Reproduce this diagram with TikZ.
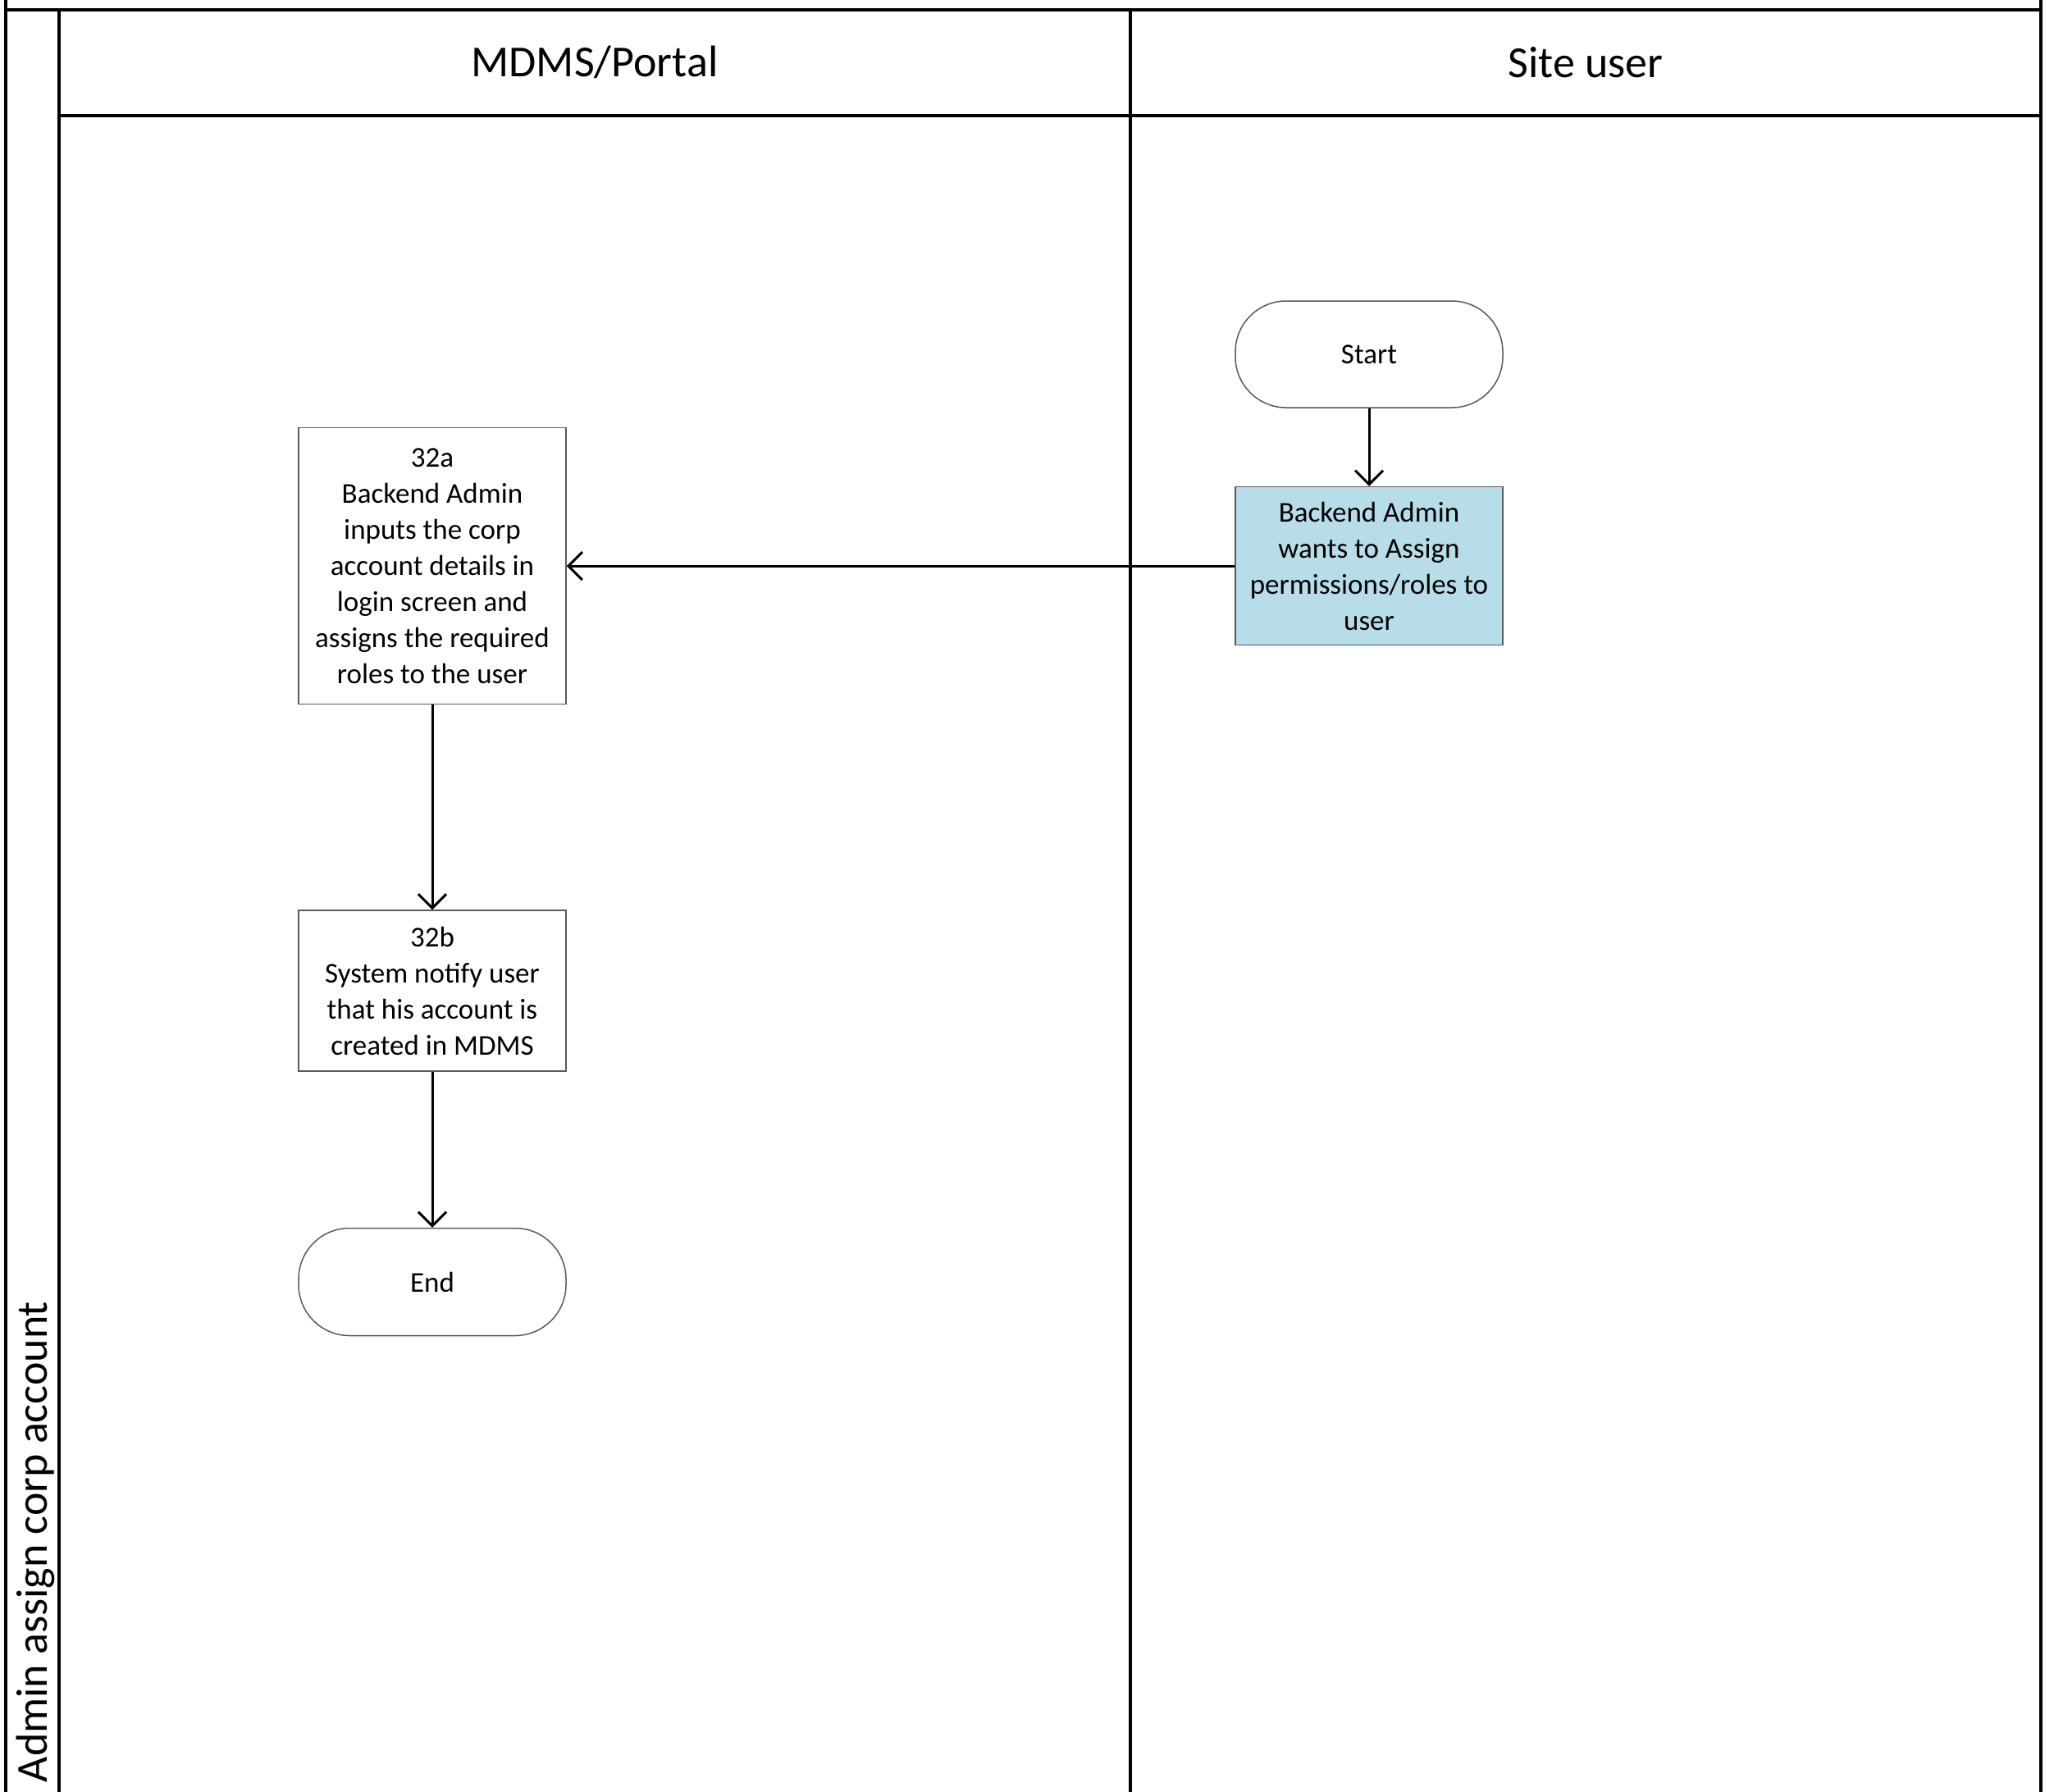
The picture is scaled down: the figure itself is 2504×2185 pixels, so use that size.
\documentclass[tikz,border=0pt]{standalone}
\usepackage{fontspec}
\setmainfont{Carlito}
\usetikzlibrary{arrows.meta}
\definecolor{stepblue}{HTML}{B7DDE8}
\definecolor{boxline}{HTML}{5A5A5A}

\begin{document}
\begin{tikzpicture}[x=1pt,y=-1pt,
  lane/.style={line width=4pt, draw=black, line cap=rect},
  proc/.style={draw=boxline, line width=1.5pt, fill=white, minimum width=326pt,
    inner sep=0pt, align=center, font=\fontsize{35}{44}\selectfont},
  term/.style={proc, rounded corners=62pt},
  flow/.style={line width=3pt, draw=black,
    -{Straight Barb[length=17pt,width=34pt,line width=3pt]}},
  headtext/.style={font=\fontsize{54}{64}\selectfont, inner sep=0pt}]
\useasboundingbox (0,0) rectangle (2504,2185);
\clip (0,0) rectangle (2504,2185);

% pool and lane borders
\draw[lane] (7,-10) -- (7,2200);
\draw[lane] (2488,-10) -- (2488,2200);
\draw[lane] (7,12) -- (2488,12);
\draw[lane] (72,12) -- (72,2200);
\draw[lane] (72,141) -- (2488,141);
\draw[lane] (1378,12) -- (1378,2200);

% pool and lane titles
\node[headtext, rotate=90] (pool) at (43,1880) {Admin assign corp account};
\node[headtext] (laneA) at (725,76) {MDMS/Portal};
\node[headtext] (laneB) at (1933,76) {Site user};

% flow steps
\node[term, minimum height=130pt] (start) at (1669,432) {Start};
\node[proc, fill=stepblue, minimum height=193pt] (want) at (1669,690)
  {Backend Admin\\wants to Assign\\permissions/roles to\\user};
\node[proc, minimum height=337pt] (s32a) at (527,690)
  {32a\\Backend Admin\\inputs the corp\\account details in\\login screen and\\assigns the required\\roles to the user};
\node[proc, minimum height=196pt] (s32b) at (527,1208)
  {32b\\System notify user\\that his account is\\created in MDMS};
\node[term, minimum height=131pt] (end) at (527,1563) {End};

% connectors
\draw[flow] (start.south) -- (want.north);
\draw[flow] (want.west) -- (s32a.east);
\draw[flow] (s32a.south) -- (s32b.north);
\draw[flow] (s32b.south) -- (end.north);
\end{tikzpicture}
\end{document}
